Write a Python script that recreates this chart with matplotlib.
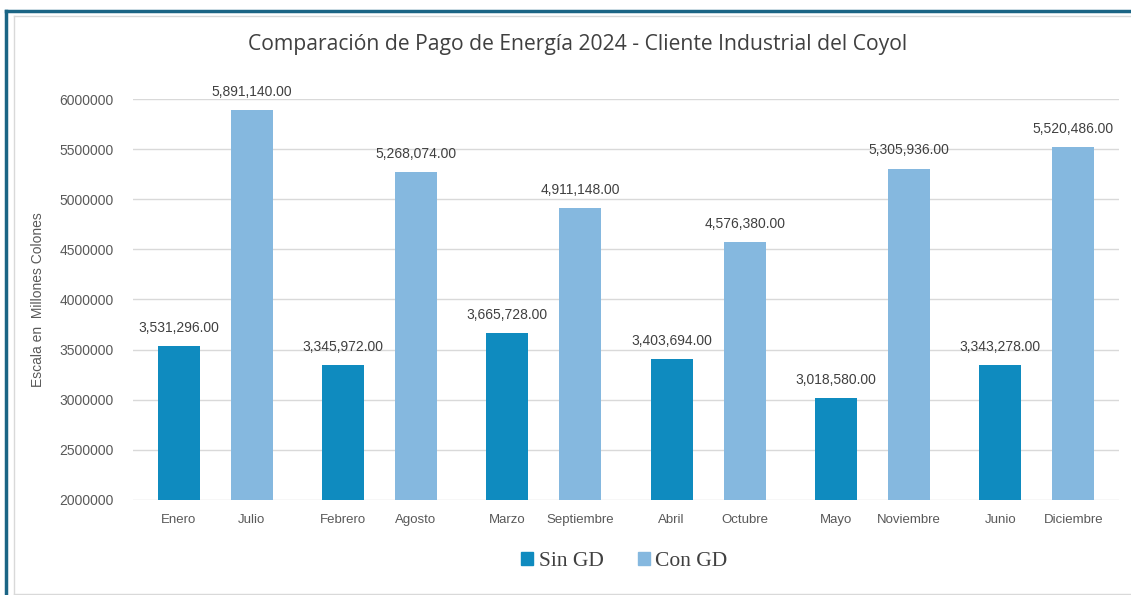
import matplotlib.pyplot as plt
from matplotlib.patches import Rectangle
from matplotlib.lines import Line2D
import numpy as np

# Data
meses_sin = ["Enero", "Febrero", "Marzo", "Abril", "Mayo", "Junio"]
meses_con = ["Julio", "Agosto", "Septiembre", "Octubre", "Noviembre", "Diciembre"]
sin_gd = [3531296, 3345972, 3665728, 3403694, 3018580, 3343278]
con_gd = [5891140, 5268074, 4911148, 4576380, 5305936, 5520486]

color_sin = "#0F8BBF"
color_con = "#85B8DF"
text_color = "#595959"

fig = plt.figure(figsize=(11.31, 5.95), dpi=100)
ax = fig.add_axes([0.1176, 0.1597, 0.8718, 0.6739])

x = np.arange(len(meses_sin))
off = 0.222
w = 0.256
b1 = ax.bar(x - off, sin_gd, width=w, color=color_sin, zorder=3)
b2 = ax.bar(x + off, con_gd, width=w, color=color_con, zorder=3)

for bars in (b1, b2):
    for r in bars:
        h = r.get_height()
        ax.annotate(f"{h:,.2f}", (r.get_x() + r.get_width() / 2, h),
                    xytext=(0, 8), textcoords="offset points",
                    ha="center", va="bottom", fontsize=10,
                    color="#404040", family="Liberation Sans")

ax.set_ylim(2000000, 6000000)
ax.set_xlim(-0.5, 5.5)
ax.set_yticks(np.arange(2000000, 6000001, 500000))
ax.set_yticklabels([str(v) for v in range(2000000, 6000001, 500000)],
                   fontsize=10, color=text_color, family="Liberation Sans")
ax.yaxis.grid(True, color="#D9D9D9", linewidth=1, zorder=0)
ax.tick_params(axis="both", length=0, pad=10)
ax.tick_params(axis="y", pad=14)

ticks = []
labels = []
for i in range(len(x)):
    ticks += [x[i] - off, x[i] + off]
    labels += [meses_sin[i], meses_con[i]]
ax.set_xticks(ticks)
ax.set_xticklabels(labels, fontsize=9.5, color=text_color, family="Liberation Sans")
for s in ax.spines.values():
    s.set_visible(False)

ax.set_ylabel("Escala en  Millones Colones", fontsize=10, color=text_color,
              family="Liberation Sans", labelpad=10)

fig.text(0.511, 0.926, "Comparación de Pago de Energía 2024 - Cliente Industrial del Coyol",
         ha="center", va="center", fontsize=15.2, color="#404040", family="Open Sans")

# legend at the bottom in serif font
leg = fig.legend([Rectangle((0, 0), 1, 1, color=color_sin),
                  Rectangle((0, 0), 1, 1, color=color_con)],
                 ["Sin GD", "Con GD"], loc="center", bbox_to_anchor=(0.552, 0.056),
                 ncol=2, frameon=False, handlelength=0.55, handleheight=0.55,
                 handletextpad=0.25, columnspacing=1.6,
                 prop={"family": "Liberation Serif", "size": 15.5})
for t in leg.get_texts():
    t.set_color("#404040")

# frame lines around the chart
fig.add_artist(Line2D([6 / 1131, 1], [1 - 11 / 595] * 2, color="#1B6585", lw=2.5))
fig.add_artist(Line2D([6 / 1131] * 2, [0, 1 - 11 / 595], color="#1B6585", lw=2.5))
fig.add_artist(Line2D([14 / 1131, 1], [1 - 16 / 595] * 2, color="#D9D9D9", lw=1))
fig.add_artist(Line2D([14 / 1131] * 2, [1 / 595, 1 - 16 / 595], color="#D9D9D9", lw=1))
fig.add_artist(Line2D([14 / 1131, 1], [1 / 595] * 2, color="#D9D9D9", lw=1))

fig.savefig("out.png", dpi=100)
